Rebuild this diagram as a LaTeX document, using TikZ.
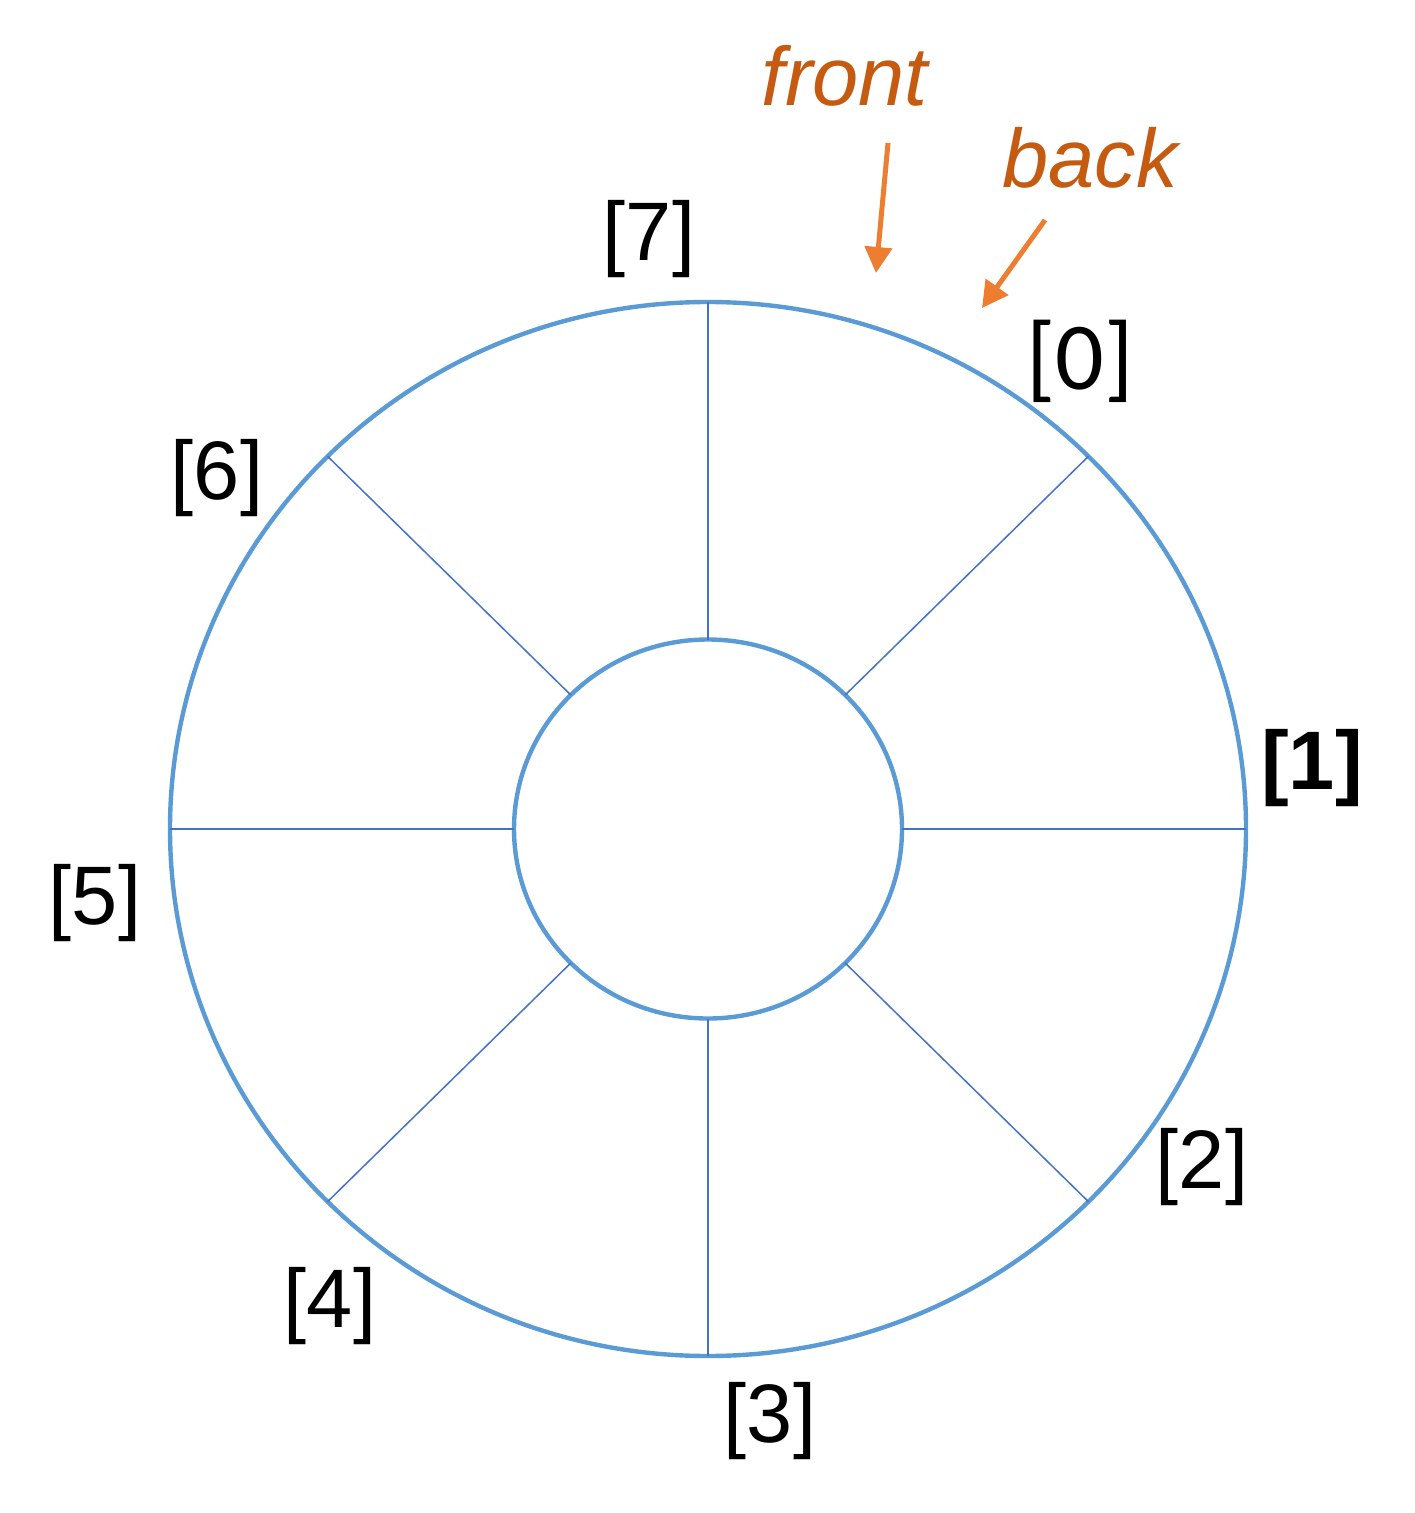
\documentclass[tikz,border=0pt]{standalone}
\usepackage{fontspec}
\setmainfont{Liberation Sans}
\newfontfamily\calfont{Carlito}
\usetikzlibrary{arrows.meta,calc}
\definecolor{ringblue}{HTML}{5B9BD5}
\definecolor{spokeblue}{HTML}{4472C4}
\definecolor{ptrorange}{HTML}{ED7D31}
\definecolor{tagorange}{HTML}{C55A11}
\tikzset{
  ring/.style={draw=ringblue, line width=2.2pt},
  spoke/.style={draw=spokeblue, line width=0.75pt},
  pointer/.style={-{Triangle[length=13pt,width=13.5pt]}, draw=ptrorange, fill=ptrorange, line width=2.5pt},
  slot/.style={inner sep=0pt, font=\fontsize{41.5}{48}\selectfont},
  tag/.style={inner sep=0pt, text=tagorange, font=\fontsize{41.5}{48}\selectfont\itshape}
}

\begin{document}
\begin{tikzpicture}[x=0.5pt, y=-0.5pt]
  \useasboundingbox (0,0) rectangle (1414,1513);
  \coordinate (c) at (708,829);

  % rings
  \draw[ring] (c) ellipse [x radius=538, y radius=527];
  \draw[ring] (c) ellipse [x radius=194, y radius=189.5];

  % spokes between the two rings
  \foreach \a in {0,45,...,315}
    \draw[spoke] ($(c)+({194*cos(\a)},{189.5*sin(\a)})$) -- ($(c)+({538*cos(\a)},{527*sin(\a)})$);

  % slot indices
  \node[slot] (s7) at (649,239) {[7]};
  \node[slot, font=\fontsize{48}{54}\selectfont\calfont] (s0) at (1080,361) {[0]};
  \node[slot, font=\fontsize{41.5}{48}\selectfont\bfseries] (s1) at (1312,768) {[1]};
  \node[slot] (s2) at (1202,1167) {[2]};
  \node[slot] (s3) at (770,1421) {[3]};
  \node[slot] (s4) at (330,1306) {[4]};
  \node[slot] (s5) at (95,903) {[5]};
  \node[slot] (s6) at (217,478) {[6]};

  % front / back pointers
  \node[tag] (front) at (845,76) {front};
  \node[tag] (back) at (1090,158) {back};
  \coordinate (frontTail) at (888,143);
  \coordinate (frontTip) at (876,273);
  \coordinate (backTail) at (1045,220);
  \coordinate (backTip) at (982,308);
  \draw[pointer] (frontTail) -- (frontTip);
  \draw[pointer] (backTail) -- (backTip);
\end{tikzpicture}
\end{document}
